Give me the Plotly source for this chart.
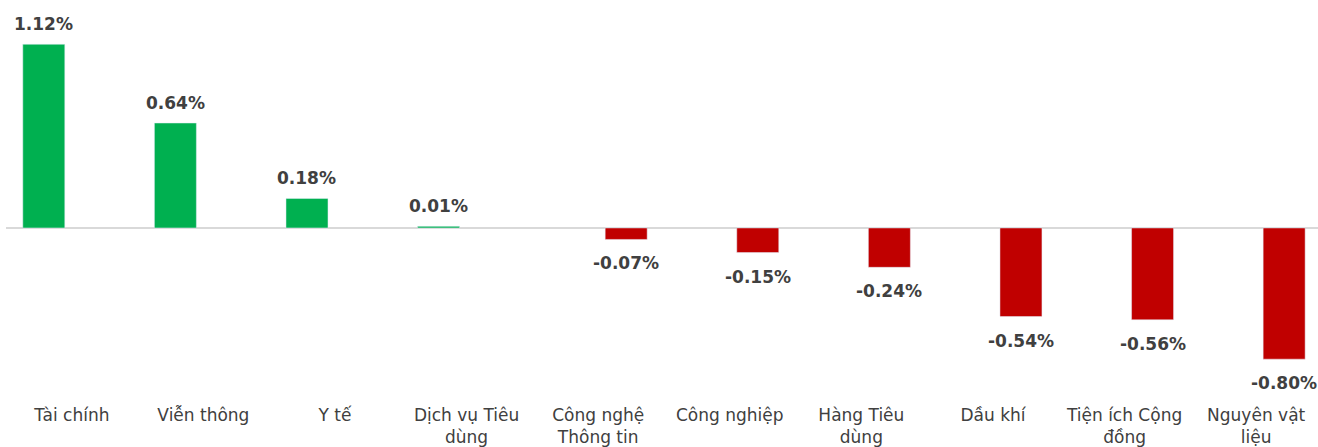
import plotly.graph_objects as go

categories = ["Tài chính", "Viễn thông", "Y tế", "Dịch vụ Tiêu<br>dùng", "Công nghệ<br>Thông tin",
              "Công nghiệp", "Hàng Tiêu<br>dùng", "Dầu khí", "Tiện ích Cộng<br>đồng", "Nguyên vật<br>liệu"]
values = [1.12, 0.64, 0.18, 0.01, -0.07, -0.15, -0.24, -0.54, -0.56, -0.80]

pos_values = [v if v > 0 else None for v in values]
neg_values = [v if v < 0 else None for v in values]

GREEN = "#00B050"
RED = "#C00000"
TEXT = "#404040"

# layout geometry
ML, MR, MT, MB = 6, 0, 0, 47
W, H = 1318, 447
XR = [-0.5, 9.47]
BARGAP, BARGROUPGAP = 0.149, 0.25

step_px = (W - ML - MR) / (XR[1] - XR[0])
slot_shift = (1 - BARGAP) / 4 * step_px

label_font = dict(family="DejaVu Sans", size=17, color=TEXT, weight="bold")

fig = go.Figure()
fig.add_trace(go.Bar(x=categories, y=pos_values, marker_color=GREEN, name="Tăng"))
fig.add_trace(go.Bar(x=categories, y=neg_values, marker_color=RED, name="Giảm"))

annotations = []
for c, v in zip(categories, values):
    up = v > 0
    annotations.append(dict(
        x=c, y=v, xref="x", yref="y", text=f"{v:.2f}%", showarrow=False,
        font=label_font, xanchor="center",
        yanchor="bottom" if up else "top",
        xshift=-slot_shift if up else slot_shift,
        yshift=8 if up else -12,
    ))

fig.update_layout(
    width=W, height=H,
    margin=dict(l=ML, r=MR, t=MT, b=MB),
    paper_bgcolor="white", plot_bgcolor="white",
    barmode="group", bargap=BARGAP, bargroupgap=BARGROUPGAP,
    showlegend=False,
    annotations=annotations,
    xaxis=dict(type="category", range=XR, showgrid=False, showline=False, automargin=False,
               ticks="", ticklabelstandoff=3,
               tickfont=dict(family="DejaVu Sans", size=17, color=TEXT)),
    yaxis=dict(range=[-1.049, 1.39], showgrid=False, showticklabels=False, automargin=False,
               zeroline=True, zerolinecolor="#D9D9D9", zerolinewidth=2),
)

fig.write_html("out.html", config={"displayModeBar": False},
               post_script="document.body.style.margin='0';")
